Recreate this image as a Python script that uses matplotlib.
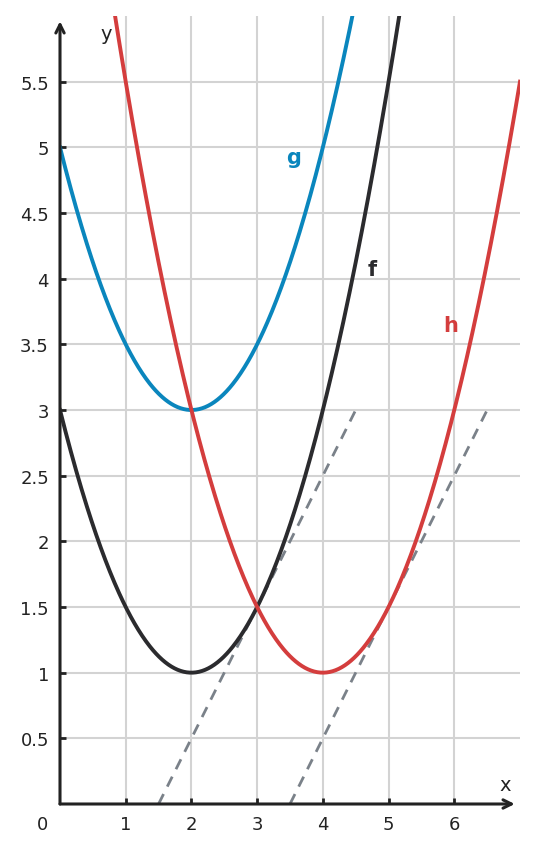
import numpy as np
import matplotlib.pyplot as plt

# parabolas y = a*(x - xv)^2 + yv
noms = ["f", "g", "h"]
sommets_x = [2.0, 2.0, 4.0]
sommets_y = [1.0, 3.0, 1.0]
coef_a = [0.5, 0.5, 0.5]
couleurs = ["#2b2b2e", "#0a86bd", "#d43d3d"]
pos_etiq = [(4.75, 4.07), (3.55, 4.93), (5.95, 3.65)]

# tangentes en pointilles : segments (x0, y0) -> (x1, y1)
tang_x = [[1.5, 4.5], [3.5, 6.5]]
tang_y = [[0.0, 3.0], [0.0, 3.0]]

xticks = [1, 2, 3, 4, 5, 6]
yticks = [0.5, 1, 1.5, 2, 2.5, 3, 3.5, 4, 4.5, 5, 5.5]

fig = plt.figure(figsize=(5.38, 8.54), dpi=100)
ax = fig.add_axes([60/538, 1-805/854, 460/538, 788/854])
ax.set_xlim(0, 7)
ax.set_ylim(0, 6)

for s in ax.spines.values():
    s.set_visible(False)

ax.set_xticks(xticks)
ax.set_yticks(yticks)
ax.set_xticklabels([str(v) for v in xticks])
ax.set_yticklabels([("%g" % v) for v in yticks])
ax.tick_params(direction="in", length=4, width=2, color="#222222",
               labelsize=13, labelcolor="#222222", pad=8)
ax.grid(color="#d3d3d3", linewidth=1.5)
ax.set_axisbelow(True)

x = np.linspace(0, 7, 600)
for nom, xv, yv, a, c, (lx, ly) in zip(noms, sommets_x, sommets_y, coef_a, couleurs, pos_etiq):
    ax.plot(x, a*(x-xv)**2 + yv, color=c, linewidth=2.8, zorder=3)
    ax.text(lx, ly, nom, color=c, fontsize=15, fontweight="bold", ha="center", va="center")

for tx, ty in zip(tang_x, tang_y):
    ax.plot(tx, ty, color="#7a8189", linewidth=2, dashes=(4, 3), zorder=2)

# axes avec fleches
fl = dict(arrowstyle="->,head_length=0.6,head_width=0.3", color="#222222", lw=2.2,
          shrinkA=0, shrinkB=0)
ax.annotate("", xy=(6.92, 0), xytext=(0, 0), arrowprops=fl, annotation_clip=False)
ax.annotate("", xy=(0, 5.96), xytext=(0, 0), arrowprops=fl, annotation_clip=False)

ax.text(6.77, 0.15, "x", fontsize=14, color="#222222", ha="center", va="center")
ax.text(0.7, 5.87, "y", fontsize=14, color="#222222", ha="center", va="center")
ax.text(-0.26, -0.15, "0", fontsize=13, color="#222222", ha="center", va="center")

fig.savefig("out.png")
